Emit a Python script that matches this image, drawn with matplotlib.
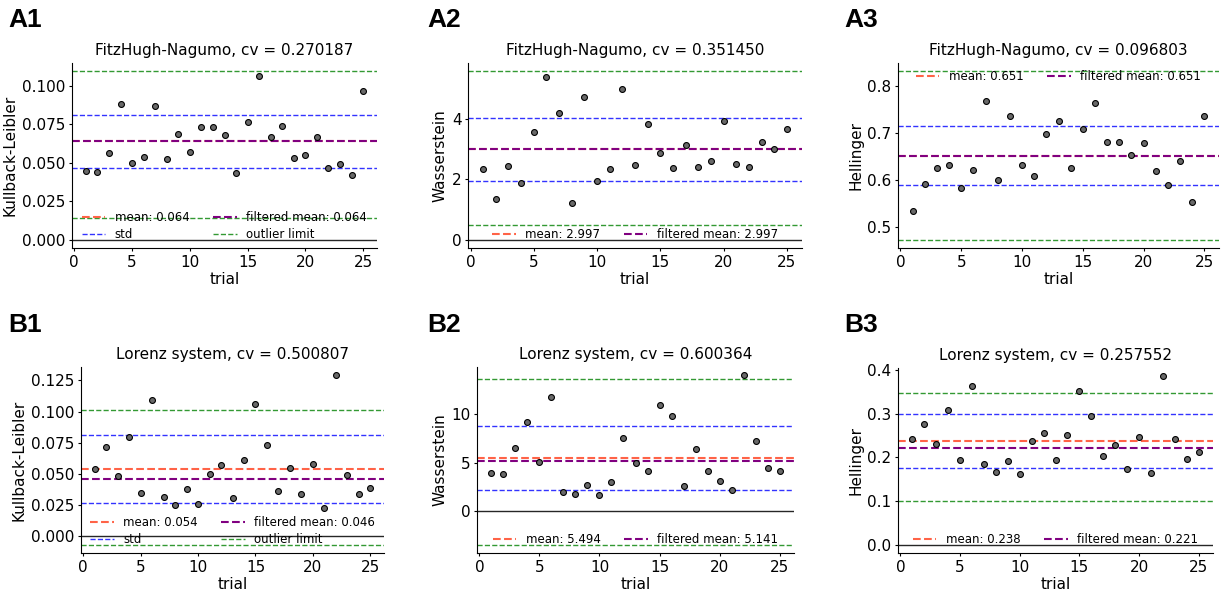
import numpy as np
import matplotlib
matplotlib.use("Agg")
import matplotlib.pyplot as plt

trials = np.arange(1, 26)

# FitzHugh-Nagumo divergences per trial
kl_fhn = [0.0446, 0.0442, 0.0563, 0.0881, 0.0500, 0.0537, 0.0868, 0.0522, 0.0688, 0.0569,
          0.0736, 0.0736, 0.0682, 0.0431, 0.0766, 0.1065, 0.0665, 0.0742, 0.0528, 0.0554,
          0.0671, 0.0468, 0.0494, 0.0420, 0.0968]
w_fhn = [2.35, 1.34, 2.44, 1.87, 3.58, 5.41, 4.20, 1.21, 4.72, 1.93,
         2.33, 4.98, 2.49, 3.83, 2.88, 2.39, 3.13, 2.41, 2.62, 3.94,
         2.51, 2.42, 3.25, 3.00, 3.67]
h_fhn = [0.534, 0.590, 0.626, 0.632, 0.582, 0.621, 0.767, 0.599, 0.736, 0.631,
         0.608, 0.697, 0.725, 0.625, 0.707, 0.764, 0.680, 0.680, 0.652, 0.679,
         0.618, 0.588, 0.639, 0.552, 0.736]

# Lorenz system divergences per trial
kl_lor = [0.0538, 0.0720, 0.0487, 0.0796, 0.0352, 0.1097, 0.0320, 0.0253, 0.0382, 0.0258,
          0.0503, 0.0573, 0.0309, 0.0610, 0.1062, 0.0731, 0.0363, 0.0551, 0.0339, 0.0581,
          0.0228, 0.1290, 0.0495, 0.0341, 0.0392]
w_lor = [3.98, 3.88, 6.47, 9.24, 5.09, 11.76, 1.97, 1.80, 2.73, 1.70,
         2.98, 7.54, 4.95, 4.12, 10.97, 9.86, 2.60, 6.37, 4.15, 3.15,
         2.18, 14.01, 7.27, 4.46, 4.19]
h_lor = [0.243, 0.276, 0.232, 0.308, 0.195, 0.363, 0.186, 0.166, 0.193, 0.162,
         0.237, 0.256, 0.194, 0.252, 0.353, 0.294, 0.203, 0.229, 0.173, 0.246,
         0.164, 0.386, 0.243, 0.196, 0.213]

metrics = ["Kullback-Leibler", "Wasserstein", "Hellinger"]

fhn_mean = [0.064, 2.997, 0.651]
fhn_filtered = [0.064, 2.997, 0.651]
fhn_cv = [0.270187, 0.351450, 0.096803]
fhn_limits = [(0.0143, 0.1095), (0.475, 5.58), (0.473, 0.830)]

lor_mean = [0.054, 5.494, 0.238]
lor_filtered = [0.046, 5.141, 0.221]
lor_cv = [0.500807, 0.600364, 0.257552]
lor_limits = [(-0.0065, 0.1016), (-3.46, 13.67), (0.100, 0.349)]

W, H = 1223, 595
fig = plt.figure(figsize=(W / 100, H / 100), dpi=100)


def box(left, right, top, bottom):
    return [left / W, 1 - bottom / H, (right - left) / W, (bottom - top) / H]


def panel(rect, values, system, metric, mean, filtered, cv, limits,
          full_legend, zero_line, legend_loc):
    ax = fig.add_axes(rect)
    std = cv * mean
    ax.axhline(mean, color="tomato", ls="--", lw=1.5, label="mean: %.3f" % mean)
    ax.axhline(filtered, color="purple", ls="--", lw=1.5,
               label="filtered mean: %.3f" % filtered)
    ax.axhline(mean + std, color="blue", ls="--", lw=1, alpha=0.8, label="std")
    ax.axhline(mean - std, color="blue", ls="--", lw=1, alpha=0.8)
    ax.axhline(limits[1], color="green", ls="--", lw=1, alpha=0.8, label="outlier limit")
    ax.axhline(limits[0], color="green", ls="--", lw=1, alpha=0.8)
    if zero_line:
        ax.axhline(0, color="0.15", lw=1)
    ax.scatter(trials, values, s=18, c="dimgray", edgecolors="k",
               linewidths=0.8, zorder=3)
    ax.set_title("%s, cv = %.6f" % (system, cv), fontsize=11)
    ax.set_xlabel("trial", fontsize=11, labelpad=2)
    ax.set_ylabel(metric, fontsize=11, labelpad=3)
    ax.tick_params(labelsize=11, length=2.2, pad=2.5)
    ax.spines["top"].set_visible(False)
    ax.spines["right"].set_visible(False)

    handles, labels = ax.get_legend_handles_labels()
    # columns fill top-down: mean/std on the left, filtered mean/outlier on the right
    order = [0, 2, 1, 3] if full_legend else [0, 1]
    ax.legend([handles[i] for i in order], [labels[i] for i in order],
              loc=legend_loc, ncol=2, frameon=False, fontsize=8.5,
              borderaxespad=0.2, columnspacing=2.0, labelspacing=0.35)
    return ax


panel(box(72, 377, 63, 248), kl_fhn, "FitzHugh-Nagumo", metrics[0],
      fhn_mean[0], fhn_filtered[0], fhn_cv[0], fhn_limits[0], True, True, "lower center")
panel(box(468, 802, 63, 248), w_fhn, "FitzHugh-Nagumo", metrics[1],
      fhn_mean[1], fhn_filtered[1], fhn_cv[1], fhn_limits[1], False, True, "lower center")
panel(box(898, 1219, 63, 248), h_fhn, "FitzHugh-Nagumo", metrics[2],
      fhn_mean[2], fhn_filtered[2], fhn_cv[2], fhn_limits[2], False, False, "upper center")
panel(box(81, 384, 367, 553), kl_lor, "Lorenz system", metrics[0],
      lor_mean[0], lor_filtered[0], lor_cv[0], lor_limits[0], True, True, "lower center")
panel(box(477, 794, 367, 553), w_lor, "Lorenz system", metrics[1],
      lor_mean[1], lor_filtered[1], lor_cv[1], lor_limits[1], False, True, "lower center")
panel(box(898, 1213, 368, 553), h_lor, "Lorenz system", metrics[2],
      lor_mean[2], lor_filtered[2], lor_cv[2], lor_limits[2], False, True, "lower center")

letters = [("A1", 8, 8), ("A2", 427, 8), ("A3", 844, 8),
           ("B1", 8, 313), ("B2", 427, 313), ("B3", 844, 313)]
for name, x, y in letters:
    fig.text(x / W, 1 - y / H, name, fontsize=19, fontweight="bold",
             family="Liberation Sans", ha="left", va="top")

fig.savefig("out.png", dpi=100)
